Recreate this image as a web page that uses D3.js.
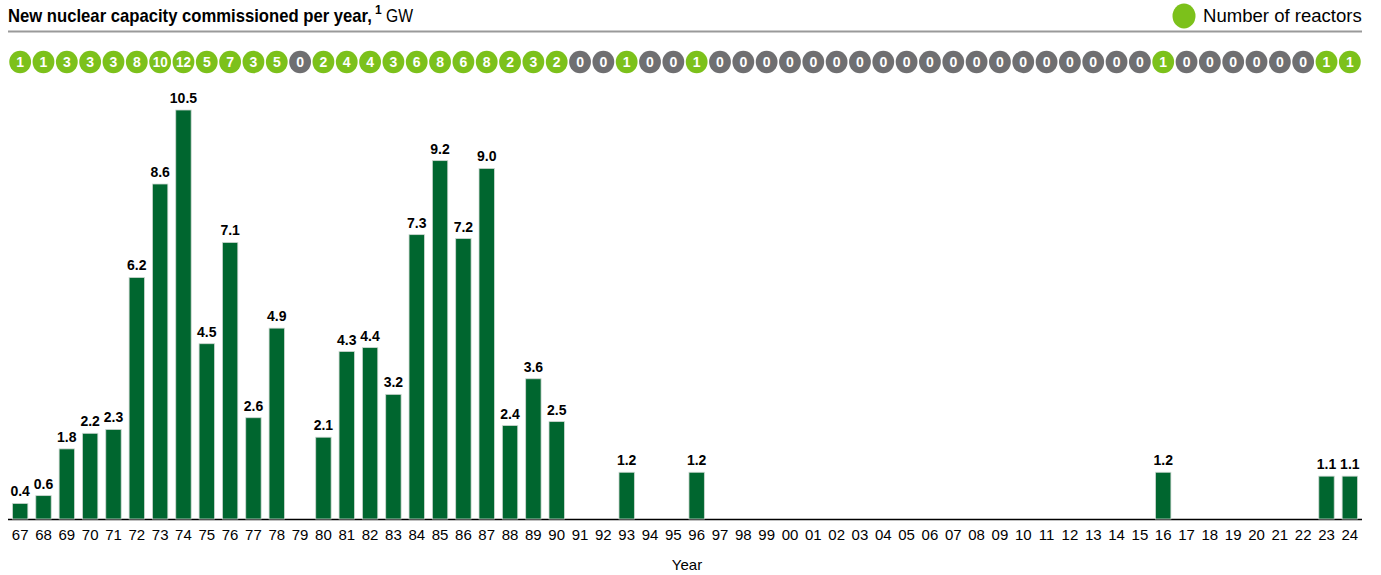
<!DOCTYPE html>
<html>
<head>
<meta charset="utf-8">
<script src="https://cdn.jsdelivr.net/npm/d3@7"></script>
<style>
  body { margin: 0; background: #fff; }
  svg { display: block; font-family: "Liberation Sans", Arial, sans-serif; }
</style>
</head>
<body>
<div id="chart"></div>
<script>
"use strict";

// years shown on the axis (two digit labels)
let years = ["67", "68", "69", "70", "71", "72", "73", "74", "75", "76", "77", "78", "79",
  "80", "81", "82", "83", "84", "85", "86", "87", "88", "89", "90", "91", "92", "93", "94",
  "95", "96", "97", "98", "99", "00", "01", "02", "03", "04", "05", "06", "07", "08", "09",
  "10", "11", "12", "13", "14", "15", "16", "17", "18", "19", "20", "21", "22", "23", "24"];

// GW commissioned each year
let capacity = [0.4, 0.6, 1.8, 2.2, 2.3, 6.2, 8.6, 10.5, 4.5, 7.1, 2.6, 4.9, 0,
  2.1, 4.3, 4.4, 3.2, 7.3, 9.2, 7.2, 9.0, 2.4, 3.6, 2.5, 0, 0, 1.2, 0,
  0, 1.2, 0, 0, 0, 0, 0, 0, 0, 0, 0, 0, 0, 0, 0,
  0, 0, 0, 0, 0, 0, 1.2, 0, 0, 0, 0, 0, 0, 1.1, 1.1];

// number of reactors each year
let reactors = [1, 1, 3, 3, 3, 8, 10, 12, 5, 7, 3, 5, 0,
  2, 4, 4, 3, 6, 8, 6, 8, 2, 3, 2, 0, 0, 1, 0,
  0, 1, 0, 0, 0, 0, 0, 0, 0, 0, 0, 0, 0, 0, 0,
  0, 0, 0, 0, 0, 0, 1, 0, 0, 0, 0, 0, 0, 1, 1];

let width = 1381, height = 575;
let barColor = "#00662f",
  greenDot = "#7cc11b",
  greyDot = "#6f6f71";

let svg = d3.select("#chart").append("svg")
  .attr("width", width)
  .attr("height", height);

// the original type is condensed: squeeze a text horizontally to a target width
function fitWidth(el, x, y, targetWidth) {
  let w = el.node().getComputedTextLength();
  let k = targetWidth / w;
  el.attr("transform", "translate(" + x + "," + y + ") scale(" + k + ",1)");
}

// title
let titleMain = svg.append("text")
  .style("font-size", "19px")
  .style("font-weight", "bold")
  .text("New nuclear capacity commissioned per year,");
fitWidth(titleMain, 8, 22, 364);

svg.append("text")
  .attr("x", 375)
  .attr("y", 14)
  .style("font-size", "12px")
  .style("font-weight", "bold")
  .text("1");

let titleUnit = svg.append("text")
  .style("font-size", "19px")
  .text("GW");
fitWidth(titleUnit, 386, 22, 27);

// legend
svg.append("ellipse")
  .attr("cx", 1184)
  .attr("cy", 16)
  .attr("rx", 11.5)
  .attr("ry", 12.5)
  .attr("fill", greenDot);
let legendText = svg.append("text")
  .style("font-size", "18.5px")
  .text("Number of reactors");
fitWidth(legendText, 1203, 22, 159);

// rule under title
svg.append("line")
  .attr("x1", 8).attr("x2", 1362)
  .attr("y1", 31.5).attr("y2", 31.5)
  .attr("stroke", "#9a9a9a")
  .attr("stroke-width", 2);

let x = d3.scaleBand()
  .domain(years)
  .range([8.5, 1361.5])
  .paddingInner(0.34)
  .paddingOuter(0.17);

let y = d3.scaleLinear()
  .domain([0, 10.5])
  .range([519, 110]);

let data = years.map((yr, i) => ({ year: yr, gw: capacity[i], n: reactors[i] }));

// reactor count badges
let dots = svg.append("g").attr("class", "dots")
  .selectAll("g")
  .data(data)
  .enter().append("g")
  .attr("transform", d => "translate(" + (x(d.year) + x.bandwidth() / 2) + ",62)");

dots.append("ellipse")
  .attr("rx", 10.9)
  .attr("ry", 11.2)
  .attr("fill", d => d.n > 0 ? greenDot : greyDot);

dots.append("text")
  .attr("text-anchor", "middle")
  .style("font-size", "14px")
  .style("font-weight", "bold")
  .style("fill", "#fff")
  .text(d => d.n)
  .each(function(d) {
    let t = d3.select(this);
    if (d.n >= 10) {
      fitWidth(t, 0, 5, 15);
    } else {
      t.attr("y", 5);
    }
  });

// baseline
svg.append("line")
  .attr("x1", 8).attr("x2", 1362)
  .attr("y1", y(0) + 0.5).attr("y2", y(0) + 0.5)
  .attr("stroke", "#000")
  .attr("stroke-width", 1.5);

// bars
let bars = data.filter(d => d.gw > 0);

svg.append("g").attr("class", "bars")
  .selectAll("rect")
  .data(bars)
  .enter().append("rect")
  .attr("x", d => x(d.year))
  .attr("y", d => y(d.gw))
  .attr("width", x.bandwidth())
  .attr("height", d => y(0) - y(d.gw))
  .attr("fill", barColor)
  .attr("stroke", "#cfd8d2")
  .attr("stroke-width", 0.8);

svg.append("g").attr("class", "values")
  .selectAll("text")
  .data(bars)
  .enter().append("text")
  .attr("x", d => x(d.year) + x.bandwidth() / 2)
  .attr("y", d => y(d.gw) - 7)
  .attr("text-anchor", "middle")
  .style("font-size", "14px")
  .style("font-weight", "bold")
  .text(d => d3.format(".1f")(d.gw));

// x axis labels
let xAxis = d3.axisBottom(x).tickSize(0).tickPadding(10);
let axisG = svg.append("g")
  .attr("transform", "translate(0," + y(0) + ")")
  .call(xAxis);
axisG.select(".domain").remove();
axisG.selectAll("text")
  .style("font-family", "\"Liberation Sans\", Arial, sans-serif")
  .style("font-size", "15px")
  .style("fill", "#000");

svg.append("text")
  .attr("x", 687)
  .attr("y", 570)
  .attr("text-anchor", "middle")
  .style("font-size", "15px")
  .text("Year");
</script>
</body>
</html>
